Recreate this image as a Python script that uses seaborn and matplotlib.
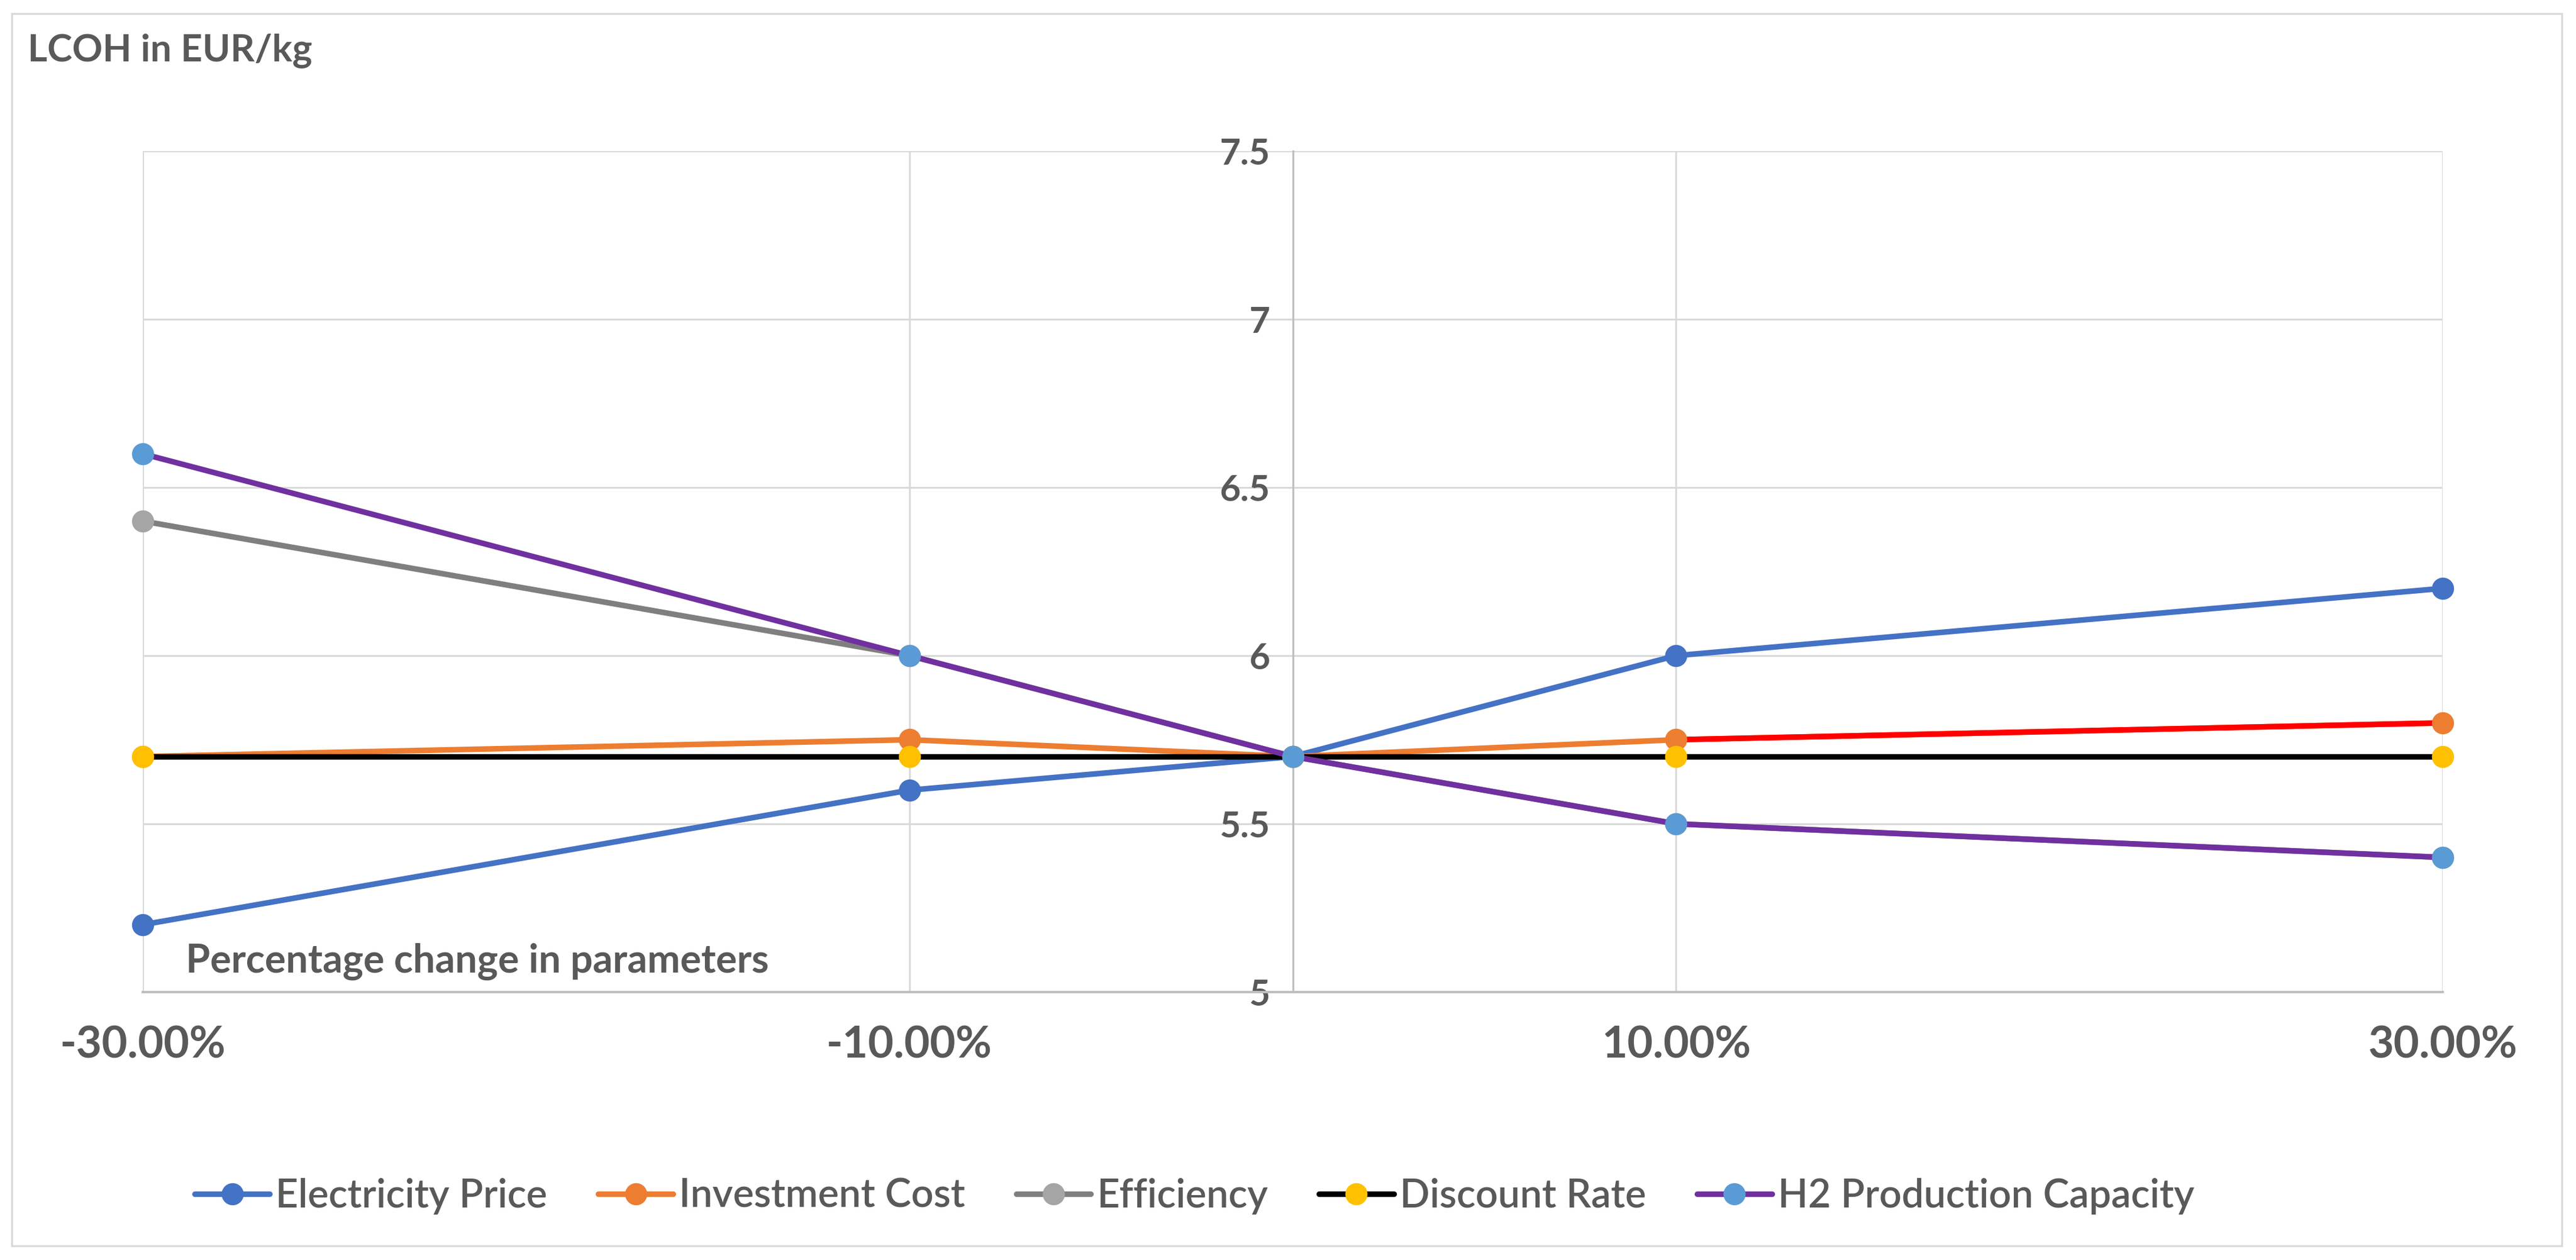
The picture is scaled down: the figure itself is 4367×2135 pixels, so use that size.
import pandas as pd
import seaborn as sns
import matplotlib.pyplot as plt
from matplotlib.lines import Line2D
from matplotlib.patches import Rectangle

# ========= data =========
change = [-30, -10, 0, 10, 30]  # percentage change in parameters
electricity_price = [5.2, 5.6, 5.7, 6.0, 6.2]
investment_cost = [5.7, 5.75, 5.7, 5.75, 5.8]
efficiency = [6.4, 6.0, 5.7, 5.5, 5.4]
discount_rate = [5.7, 5.7, 5.7, 5.7, 5.7]
h2_capacity = [6.6, 6.0, 5.7, 5.5, 5.4]

series_names = ["Electricity Price", "Investment Cost", "Efficiency",
                "Discount Rate", "H2 Production Capacity"]
series_values = [electricity_price, investment_cost, efficiency,
                 discount_rate, h2_capacity]

x_ticks = [-30, -10, 10, 30]
x_tick_labels = ["-30.00%", "-10.00%", "10.00%", "30.00%"]
y_ticks = [5, 5.5, 6, 6.5, 7, 7.5]
y_tick_labels = ["5", "5.5", "6", "6.5", "7", "7.5"]

rows = []
for name, vals in zip(series_names, series_values):
    for c, v in zip(change, vals):
        rows.append({"series": name, "change": c, "lcoh": v})
df = pd.DataFrame(rows)

# ========= styles =========
line_colors = {"Electricity Price": "#4472C4", "Investment Cost": "#ED7D31",
               "Efficiency": "#7F7F7F", "Discount Rate": "#000000",
               "H2 Production Capacity": "#7030A0"}
marker_colors = {"Electricity Price": "#4472C4", "Investment Cost": "#ED7D31",
                 "Efficiency": "#A5A5A5", "Discount Rate": "#FFC000",
                 "H2 Production Capacity": "#5B9BD5"}
text_color = "#595959"
grid_color = "#D9D9D9"
axis_color = "#BFBFBF"
line_w = 3.4
marker_s = 13.5
font_name = "Lato"

sns.set_style("white")
plt.rcParams["font.family"] = [font_name, "DejaVu Sans"]

fig = plt.figure(figsize=(4367 / 200, 2135 / 200), dpi=200)
ax = fig.add_axes([0.0554, 0.2127, 0.8929, 0.6674])

# ========= lines and markers =========
for i, name in enumerate(series_names):
    sub = df[df["series"] == name]
    sns.lineplot(data=sub, x="change", y="lcoh", color=line_colors[name],
                 linewidth=line_w, errorbar=None, ax=ax, zorder=3 + i,
                 clip_on=False, legend=False)
    if name == "Investment Cost":
        # last segment is highlighted in red
        seg = sub[sub["change"] >= 10]
        sns.lineplot(data=seg, x="change", y="lcoh", color="#FF0000",
                     linewidth=line_w, errorbar=None, ax=ax, zorder=3.3 + i,
                     clip_on=False, legend=False)
    sns.lineplot(data=sub, x="change", y="lcoh", color=marker_colors[name],
                 linestyle="none", marker="o", markersize=marker_s,
                 markeredgewidth=0, errorbar=None, ax=ax, zorder=3.5 + i,
                 clip_on=False, legend=False)

# ========= axes =========
ax.set_xlim(-30, 30)
ax.set_ylim(5, 7.5)
ax.set_xticks(x_ticks)
ax.set_xticklabels(x_tick_labels)
ax.set_yticks(y_ticks)
ax.set_yticklabels(y_tick_labels)
ax.set_xlabel("")
ax.set_ylabel("")
ax.grid(True, color=grid_color, linewidth=1.1, zorder=0)
ax.set_axisbelow(True)

ax.spines["left"].set_position(("data", 0))
ax.spines["left"].set_color(axis_color)
ax.spines["left"].set_linewidth(1.2)
ax.spines["left"].set_zorder(1)
ax.spines["bottom"].set_color(axis_color)
ax.spines["bottom"].set_linewidth(1.5)
ax.spines["top"].set_visible(False)
ax.spines["right"].set_visible(False)

ax.tick_params(axis="x", length=0, pad=20, labelsize=27, labelcolor=text_color)
ax.tick_params(axis="y", length=0, pad=14, labelsize=22, labelcolor=text_color)
for lab in ax.get_xticklabels() + ax.get_yticklabels():
    lab.set_fontweight("bold")

# ========= texts =========
fig.text(0.0108, 0.960, "LCOH in EUR/kg", fontsize=23, fontweight="bold",
         color=text_color, va="center", ha="left")
fig.text(0.0721, 0.237, "Percentage change in parameters", fontsize=24,
         fontweight="bold", color=text_color, va="center", ha="left")

# ========= legend =========
handles = [Line2D([0], [0], color=line_colors[n], linewidth=line_w, marker="o",
                  markersize=marker_s, markerfacecolor=marker_colors[n],
                  markeredgewidth=0) for n in series_names]
leg = fig.legend(handles, series_names, loc="center", bbox_to_anchor=(0.4637, 0.0506),
                 ncol=5, frameon=False, fontsize=24, labelcolor=text_color,
                 handlelength=1.9, handletextpad=0.15, columnspacing=1.3)
for t in leg.get_texts():
    t.set_fontweight("semibold")

# outer chart border
fig.patches.append(Rectangle((0.0046, 0.0112), 0.990, 0.978, transform=fig.transFigure,
                             fill=False, edgecolor=grid_color, linewidth=1.2))

fig.savefig("out.png", dpi=200)
